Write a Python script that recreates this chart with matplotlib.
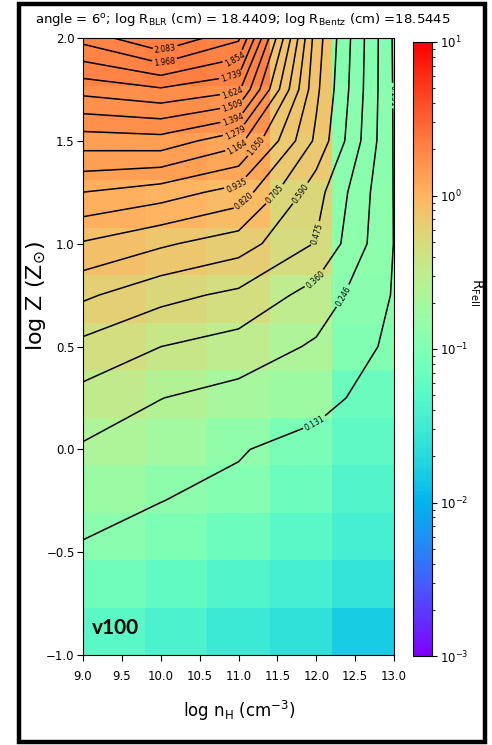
import numpy as np
import matplotlib
matplotlib.use('Agg')
import matplotlib.pyplot as plt
from matplotlib.colors import LogNorm
from matplotlib.patches import Rectangle

##### model grid : log density (x) and log metallicity (y)
log_nH = [9.0, 10.0, 11.0, 12.0, 13.0]
log_Z = [-1.0, -0.75, -0.5, -0.25, 0.0, 0.25, 0.5, 0.75, 1.0, 1.25, 1.5, 1.75, 2.0]

##### R_FeII along log Z (from -1 to 2) for each density
rfe_n09 = [0.052, 0.075, 0.120, 0.165, 0.232, 0.323, 0.443, 0.611, 0.809, 1.049, 1.334, 1.665, 2.010]
rfe_n10 = [0.040, 0.060, 0.095, 0.132, 0.190, 0.2475, 0.361, 0.510, 0.723, 0.991, 1.348, 1.724, 2.19815]
rfe_n11 = [0.030, 0.045, 0.070, 0.108, 0.138, 0.205, 0.314, 0.450, 0.643, 0.891, 1.204, 1.646, 1.990]
rfe_n12 = [0.024, 0.036, 0.052, 0.070, 0.090, 0.170, 0.230, 0.315, 0.468, 0.520, 0.680, 0.730, 0.760]
rfe_n13 = [0.0159, 0.026, 0.036, 0.045, 0.055, 0.068, 0.105, 0.122, 0.128, 0.126, 0.123, 0.120, 0.115]

xticks = [9.0, 9.5, 10.0, 10.5, 11.0, 11.5, 12.0, 12.5, 13.0]
yticks = [-1.0, -0.5, 0.0, 0.5, 1.0, 1.5, 2.0]

# where the contour labels sit (one list per level, low -> high)
label_pos = [[(12.0, 0.11), (12.98, 1.72)], [(12.37, 0.74)], [(12.0, 0.82)], [(11.98, 1.05)],
             [(11.85, 1.23)], [(11.47, 1.24)], [(11.06, 1.21)], [(10.98, 1.28)], [(11.21, 1.48)],
             [(10.98, 1.48)], [(10.96, 1.54)], [(10.93, 1.60)], [(10.93, 1.66)], [(10.93, 1.72)],
             [(10.91, 1.82)], [(10.96, 1.89)], [(10.06, 1.87)], [(10.06, 1.94)]]

plt.rcParams['font.family'] = 'DejaVu Sans'
W, H = 492., 745.

Z = np.array([rfe_n09, rfe_n10, rfe_n11, rfe_n12, rfe_n13]).T

fig = plt.figure(figsize=(W/100, H/100), dpi=100)
ax = fig.add_axes([83/W, 1-655/H, 311/W, 617/H])
im = ax.imshow(Z, origin='lower', extent=[9, 13, -1, 2], aspect='auto', cmap='rainbow',
               norm=LogNorm(vmin=1e-3, vmax=1e1), interpolation='nearest')
ax.set_xlim(9, 13); ax.set_ylim(-1, 2)

levels = np.linspace(Z.min(), Z.max(), 20)[1:-1]
# one contour set per level so each label goes on its own line
for lev, pos in zip(levels, label_pos):
    cs = ax.contour(log_nH, log_Z, Z, levels=[lev], colors='k', linewidths=1.1)
    cs.clabel(manual=pos, fmt='%.3f', fontsize=5.5, inline_spacing=2)

ax.set_xticks(xticks); ax.set_yticks(yticks)
ax.tick_params(labelsize=8.5, length=4)
ax.tick_params(axis='y', pad=2)
ax.tick_params(axis='x', pad=6.5)

cax = fig.add_axes([413/W, 1-656/H, 19/W, 614/H])
cb = fig.colorbar(im, cax=cax)
cb.ax.tick_params(labelsize=8.5, pad=2)

fig.text(242.5/W, 1-20/H, r'angle = 6$^{\mathdefault{o}}$; log R$_{\mathdefault{BLR}}$ (cm) = 18.4409; '
         r'log R$_{\mathdefault{Bentz}}$ (cm) =18.5445', ha='center', va='center', fontsize=9.5)
fig.text(239/W, 1-711/H, r'log n$_{\mathdefault{H}}$ (cm$^{\mathdefault{-3}}$)', ha='center', va='center', fontsize=12)
fig.text(36/W, 1-296/H, r'log Z (Z$_{\odot}$)', rotation=90, ha='center', va='center', fontsize=16)
fig.text(476/W, 1-292/H, r'R$_{\mathdefault{FeII}}$', rotation=270, ha='center', va='center', fontsize=10)
fig.text(92/W, 1-628/H, 'v100', ha='left', va='center', fontsize=15, fontweight='bold', family='Lato')

fig.add_artist(Rectangle((18.5/W, 1-741.5/H), 466.5/W, 737.5/H, transform=fig.transFigure,
                         fill=False, lw=3.2, ec='black'))

fig.savefig('out.png', dpi=100)
